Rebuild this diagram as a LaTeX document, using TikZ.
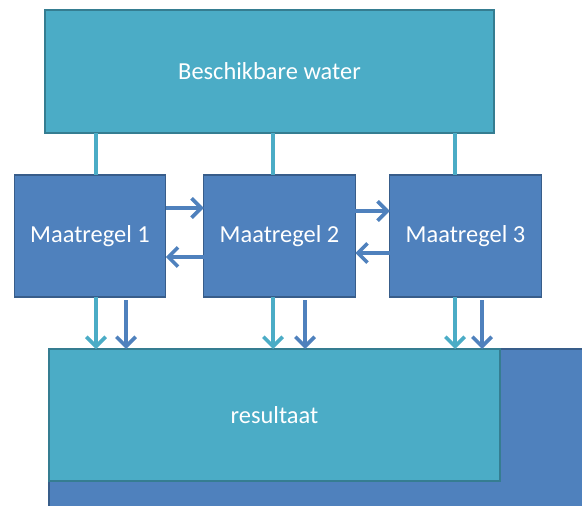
\documentclass[tikz,border=0pt]{standalone}
\usepackage{fontspec}
\setmainfont{Carlito}
\usetikzlibrary{arrows.meta}

\definecolor{aqua}{HTML}{4BACC6}
\definecolor{aquaedge}{HTML}{357D91}
\definecolor{blauw}{HTML}{4F81BD}
\definecolor{blauwedge}{HTML}{385D8A}

\tikzset{
  aquabox/.style={draw=aquaedge,fill=aqua,line width=1.2pt,inner sep=0pt,outer sep=0pt,text=white},
  blauwbox/.style={draw=blauwedge,fill=blauw,line width=0.8pt,inner sep=0pt,outer sep=0pt,text=white,
    minimum width=3.03cm,minimum height=2.44cm},
  aqualine/.style={draw=aqua,line width=2.1pt},
  aquaarrow/.style={aqualine,-{Straight Barb[length=5.5pt,width=11pt,line width=2.1pt]}},
  blauwarrow/.style={draw=blauw,line width=2.1pt,-{Straight Barb[length=5.5pt,width=11pt,line width=2.1pt]}}
}

\begin{document}
\begin{tikzpicture}[font=\fontsize{13.9}{16}\selectfont]
%\draw[step=0.5cm,gray,very thin] (0,0) grid (11.64,10.1); %background grid
\useasboundingbox (0,0) rectangle (11.64,10.1);
\clip (0,0) rectangle (11.64,10.1);

% achtergrond onder resultaat
\draw[blauwedge,fill=blauw,line width=0.8pt] (0.98,3.12) rectangle (12,-0.5);

\node[aquabox,minimum width=8.98cm,minimum height=2.46cm] (top) at (5.39,8.67) {Beschikbare water};

\node[blauwbox] (m1) at (1.8,5.38)  {Maatregel 1};
\node[blauwbox] (m2) at (5.59,5.38) {Maatregel 2};
\node[blauwbox] (m3) at (9.31,5.38) {Maatregel 3};

\node[aquabox,minimum width=9.02cm,minimum height=2.64cm] (res) at (5.49,1.80) {resultaat};

% aanvoer
\coordinate (t1) at ([xshift=0.12cm]m1.north);
\coordinate (t2) at ([xshift=-0.13cm]m2.north);
\coordinate (t3) at ([xshift=-0.21cm]m3.north);
\draw[aqualine] (t1 |- top.south) -- (t1);
\draw[aqualine] (t2 |- top.south) -- (t2);
\draw[aqualine] (t3 |- top.south) -- (t3);

% uitwisseling
\draw[blauwarrow] ([yshift=0.56cm]m1.east) -- ([yshift=0.56cm]m2.west);
\draw[blauwarrow] ([yshift=-0.42cm]m2.west) -- ([yshift=-0.42cm]m1.east);
\draw[blauwarrow] ([yshift=0.5cm]m2.east) -- ([yshift=0.5cm]m3.west);
\draw[blauwarrow] ([yshift=-0.34cm]m3.west) -- ([yshift=-0.34cm]m2.east);

% naar resultaat
\draw[aquaarrow] (t1 |- m1.south) -- (t1 |- res.north);
\draw[aquaarrow] (t2 |- m2.south) -- (t2 |- res.north);
\draw[aquaarrow] (t3 |- m3.south) -- (t3 |- res.north);

\coordinate (b1) at ([xshift=0.72cm,yshift=-0.06cm]m1.south);
\coordinate (b2) at ([xshift=0.51cm,yshift=-0.06cm]m2.south);
\coordinate (b3) at ([xshift=0.33cm,yshift=-0.06cm]m3.south);
\draw[blauwarrow] (b1) -- (b1 |- res.north);
\draw[blauwarrow] (b2) -- (b2 |- res.north);
\draw[blauwarrow] (b3) -- (b3 |- res.north);

\end{tikzpicture}
\end{document}
